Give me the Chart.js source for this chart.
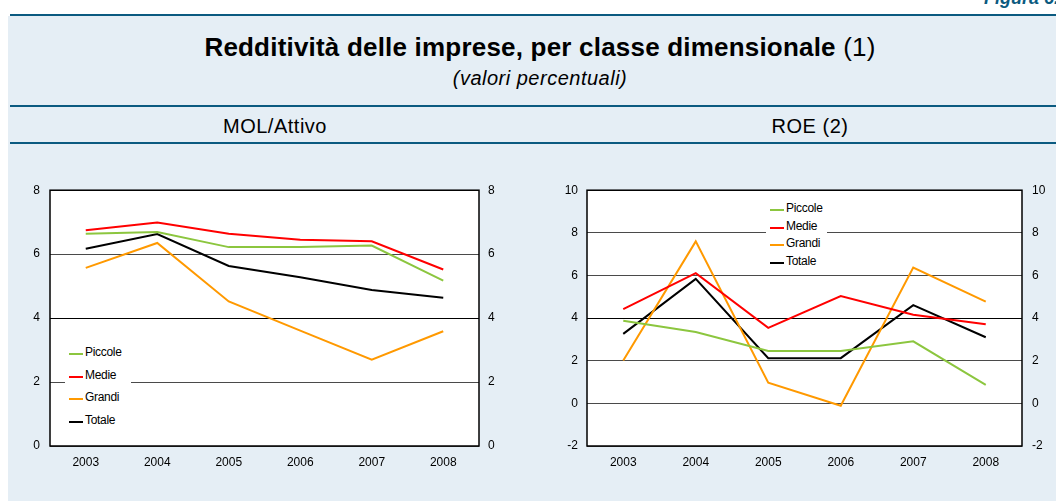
<!DOCTYPE html>
<html lang="it">
<head>
<meta charset="utf-8">
<title>Redditività delle imprese</title>
<script src="https://cdn.jsdelivr.net/npm/chart.js@4/dist/chart.umd.min.js"></script>
<style>
  html, body { margin: 0; padding: 0; }
  body {
    width: 1056px; height: 501px; position: relative; overflow: hidden;
    background: #fff; font-family: "Liberation Sans", Arial, sans-serif; color: #000;
  }
  .abs { position: absolute; }
  #panel { left: 8px; top: 16px; right: 0; bottom: 0; background: #e5eef5; }
  .rule { left: 10px; right: 0; height: 2px; background: #0b5a80; }
  #figura { left: 984px; top: -12px; font-size: 18px; font-weight: bold; font-style: italic; color: #0b5a80; white-space: nowrap; }
  #title { left: 0; width: 1080px; top: 32px; text-align: center; font-size: 26px; font-weight: bold; white-space: nowrap; letter-spacing: 0.2px; }
  #title span { font-weight: normal; }
  #subtitle { left: 0; width: 1080px; top: 67px; text-align: center; font-size: 20px; font-style: italic; letter-spacing: 0.5px; }
  .ptitle { top: 115px; font-size: 20px; text-align: center; width: 300px; letter-spacing: 0.5px; }
  .chartbox { position: absolute; }
  .legend { position: absolute; background: #fff; font-size: 12px; }
  .legend .item { position: absolute; left: 0; white-space: nowrap; }
  .legend .swatch { position: absolute; top: 0; width: 14px; height: 2px; }
  .legend .label { position: absolute; top: -8px; left: 16px; letter-spacing: -0.3px; }
</style>
</head>
<body>
<div id="panel" class="abs"></div>
<div class="abs rule" style="top:14px"></div>
<div class="abs rule" style="top:105px"></div>
<div class="abs rule" style="top:142px"></div>
<div id="figura" class="abs">Figura 6.1</div>
<div id="title" class="abs">Redditività delle imprese, per classe dimensionale <span>(1)</span></div>
<div id="subtitle" class="abs">(valori percentuali)</div>
<div class="abs ptitle" style="left:125px">MOL/Attivo</div>
<div class="abs ptitle" style="left:660px">ROE (2)</div>

<div class="chartbox" style="left:20px;top:173px;width:500px;height:305px"><canvas id="mol"></canvas></div>
<div class="chartbox" style="left:540px;top:173px;width:516px;height:305px"><canvas id="roe"></canvas></div>
<div id="legend-mol" class="legend" style="left:65px;top:342px;width:66px;height:92px"></div>
<div id="legend-roe" class="legend" style="left:766px;top:200px;width:61px;height:71px"></div>

<script>
const years = ['2003', '2004', '2005', '2006', '2007', '2008']
const seriesNames = ['Piccole', 'Medie', 'Grandi', 'Totale']
const seriesColors = ['#8cc63f', '#ff0000', '#ff9900', '#000000']

// MOL/Attivo
const molPiccole = [6.64, 6.69, 6.22, 6.22, 6.27, 5.17]
const molMedie = [6.75, 6.99, 6.64, 6.45, 6.40, 5.52]
const molGrandi = [5.57, 6.35, 4.52, 3.61, 2.70, 3.59]
const molTotale = [6.17, 6.63, 5.63, 5.28, 4.88, 4.64]
const molRange = [0, 8]

// ROE
const roePiccole = [3.88, 3.35, 2.46, 2.46, 2.91, 0.87]
const roeMedie = [4.42, 6.11, 3.54, 5.03, 4.16, 3.71]
const roeGrandi = [2.01, 7.60, 0.97, -0.11, 6.37, 4.77]
const roeTotale = [3.26, 5.84, 2.12, 2.12, 4.61, 3.10]
const roeRange = [-2, 10]
const tickStep = 2

Chart.defaults.font.family = '"Liberation Sans", Arial, sans-serif'
Chart.defaults.font.size = 12
Chart.defaults.color = '#000'

const plotFrame = {
  id: 'plotFrame',
  beforeDraw: (chart) => {
    const { ctx, chartArea: a } = chart
    ctx.save()
    ctx.fillStyle = '#fff'
    ctx.fillRect(a.left, a.top, a.right - a.left, a.bottom - a.top)
    ctx.restore()
  },
  beforeDatasetsDraw: (chart) => {
    const { ctx, chartArea: a } = chart
    ctx.save()
    ctx.strokeStyle = '#000'
    ctx.lineWidth = 1.5
    ctx.strokeRect(a.left, a.top, a.right - a.left, a.bottom - a.top)
    ctx.restore()
  },
}

const buildChart = (canvasId, seriesData, range, sizes) => {
  new Chart(document.getElementById(canvasId), {
    type: 'line',
    data: {
      labels: years,
      datasets: seriesData.map((values, i) => ({
        label: seriesNames[i],
        data: values,
        borderColor: seriesColors[i],
        backgroundColor: seriesColors[i],
        borderWidth: 2,
        pointRadius: 0,
        tension: 0,
        yAxisID: 'y',
      })),
    },
    plugins: [plotFrame],
    options: {
      responsive: true,
      maintainAspectRatio: false,
      animation: false,
      layout: { padding: 0 },
      plugins: { legend: { display: false }, tooltip: { enabled: false } },
      scales: {
        x: {
          offset: true,
          grid: { display: false, drawTicks: false },
          border: { display: false },
          ticks: { padding: 9, maxRotation: 0 },
          afterFit: (scale) => { scale.height = 32 },
        },
        y: {
          position: 'left',
          min: range[0],
          max: range[1],
          ticks: { stepSize: tickStep, padding: sizes.padLeft },
          grid: {
            drawTicks: false,
            color: (c) => (c.tick && c.tick.value === 4 ? '#000' : '#4a4a4a'),
          },
          border: { display: false },
          afterFit: (scale) => { scale.width = sizes.left },
        },
        y2: {
          position: 'right',
          display: true,
          min: range[0],
          max: range[1],
          ticks: { stepSize: tickStep, padding: sizes.padRight },
          grid: { display: false, drawTicks: false },
          border: { display: false },
          afterFit: (scale) => { scale.width = sizes.right },
        },
      },
    },
  })
}

const buildLegend = (elementId, startTop, rowGap) => {
  const box = document.getElementById(elementId)
  seriesNames.forEach((name, i) => {
    const item = document.createElement('div')
    item.classList.add('item')
    item.style.top = `${startTop + i * rowGap}px`
    item.style.left = '4px'
    const swatch = document.createElement('div')
    swatch.classList.add('swatch')
    swatch.style.background = seriesColors[i]
    const label = document.createElement('div')
    label.classList.add('label')
    label.innerText = name
    item.appendChild(swatch)
    item.appendChild(label)
    box.appendChild(item)
  })
}

buildChart('mol', [molPiccole, molMedie, molGrandi, molTotale], molRange, { left: 30, right: 41, padLeft: 10, padRight: 9 })
buildChart('roe', [roePiccole, roeMedie, roeGrandi, roeTotale], roeRange, { left: 47, right: 34, padLeft: 9, padRight: 10 })
buildLegend('legend-mol', 11, 22.5)
buildLegend('legend-roe', 9, 17.6)
</script>
</body>
</html>
